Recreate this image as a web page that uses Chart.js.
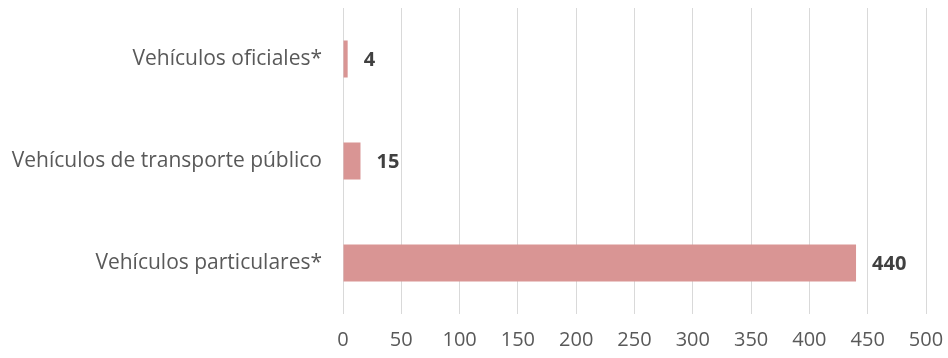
<!DOCTYPE html>
<html>
<head>
<meta charset="utf-8">
<script src="https://cdn.jsdelivr.net/npm/chart.js@4"></script>
<style>
  html, body { margin: 0; padding: 0; background: #fff; }
  #wrap { width: 948px; height: 358px; }
</style>
</head>
<body>
<div id="wrap"><canvas id="chart" width="948" height="358"></canvas></div>
<script>
  var categories = ['Vehículos oficiales*', 'Vehículos de transporte público', 'Vehículos particulares*'];
  var values = [4, 15, 440];
  var xTicks = [0, 50, 100, 150, 200, 250, 300, 350, 400, 450, 500];

  var fontFamily = "'Open Sans', 'Liberation Sans', sans-serif";

  // Value labels to the right of each bar
  var valueLabels = {
    id: 'valueLabels',
    afterDatasetsDraw: function (chart) {
      var ctx = chart.ctx;
      var meta = chart.getDatasetMeta(0);
      ctx.save();
      ctx.font = 'bold 20px ' + fontFamily;
      ctx.fillStyle = '#404040';
      ctx.textAlign = 'left';
      ctx.textBaseline = 'middle';
      meta.data.forEach(function (bar, i) {
        ctx.fillText(String(values[i]), bar.x + 16, bar.y + 1);
      });
      ctx.restore();
    }
  };

  new Chart(document.getElementById('chart'), {
    type: 'bar',
    data: {
      labels: categories,
      datasets: [{
        data: values,
        backgroundColor: '#d99594',
        borderWidth: 0,
        categoryPercentage: 1,
        barPercentage: 0.363
      }]
    },
    options: {
      indexAxis: 'y',
      responsive: false,
      animation: false,
      layout: { padding: { top: 8, right: 22, left: 0, bottom: 0 } },
      plugins: {
        legend: { display: false },
        tooltip: { enabled: false }
      },
      scales: {
        x: {
          min: 0,
          max: 500,
          afterBuildTicks: function (scale) {
            scale.ticks = xTicks.map(function (v) { return { value: v }; });
          },
          afterFit: function (scale) {
            scale.height = 44;
            scale.paddingLeft = 0;
            scale.paddingRight = 0;
          },
          grid: { color: '#d9d9d9', lineWidth: 1, drawTicks: false },
          border: { display: false },
          ticks: {
            padding: 14,
            maxRotation: 0,
            color: '#595959',
            font: { size: 20, family: fontFamily }
          }
        },
        y: {
          afterFit: function (scale) {
            scale.width = 343;
            scale.paddingTop = 0;
            scale.paddingBottom = 0;
          },
          grid: { display: false, drawTicks: false },
          border: { display: false },
          ticks: {
            padding: 21,
            color: '#595959',
            font: { size: 21, family: fontFamily }
          }
        }
      }
    },
    plugins: [valueLabels]
  });
</script>
</body>
</html>
